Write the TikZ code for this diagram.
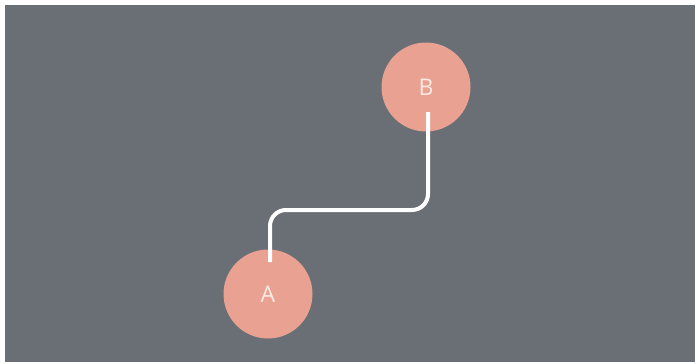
\documentclass[tikz,border=0pt]{standalone}
\usepackage{fontspec}
\setmainfont{Open Sans}
\usetikzlibrary{calc}
\definecolor{slate}{HTML}{6A6F76}
\definecolor{salmon}{HTML}{E9A191}
\definecolor{labelwhite}{HTML}{FBEAE4}
\begin{document}
\begin{tikzpicture}[x=1pt,y=-1pt,
  vertex/.style={circle,fill=salmon,minimum size=89pt,inner sep=0pt,
    text=labelwhite,font=\fontsize{23}{23}\selectfont},
  wire/.style={draw=white,line width=4pt,rounded corners=16pt}]
  % canvas
  \useasboundingbox (0,0) rectangle (697,364);
  \fill[white] (0,0) rectangle (697,364);
  \fill[slate] (5,5) rectangle (695,362);
  % vertices
  \node[vertex] (b) at (426,87) {B};
  \node[vertex] (a) at (268,294) {A};
  % connector ends inside the circles
  \coordinate (bEnd) at ($(b.center)+(2,25)$);
  \coordinate (aEnd) at ($(a.center)+(2,-32)$);
  \draw[wire] (bEnd) -- ($(bEnd)+(0,98)$) -| (aEnd);
\end{tikzpicture}
\end{document}
